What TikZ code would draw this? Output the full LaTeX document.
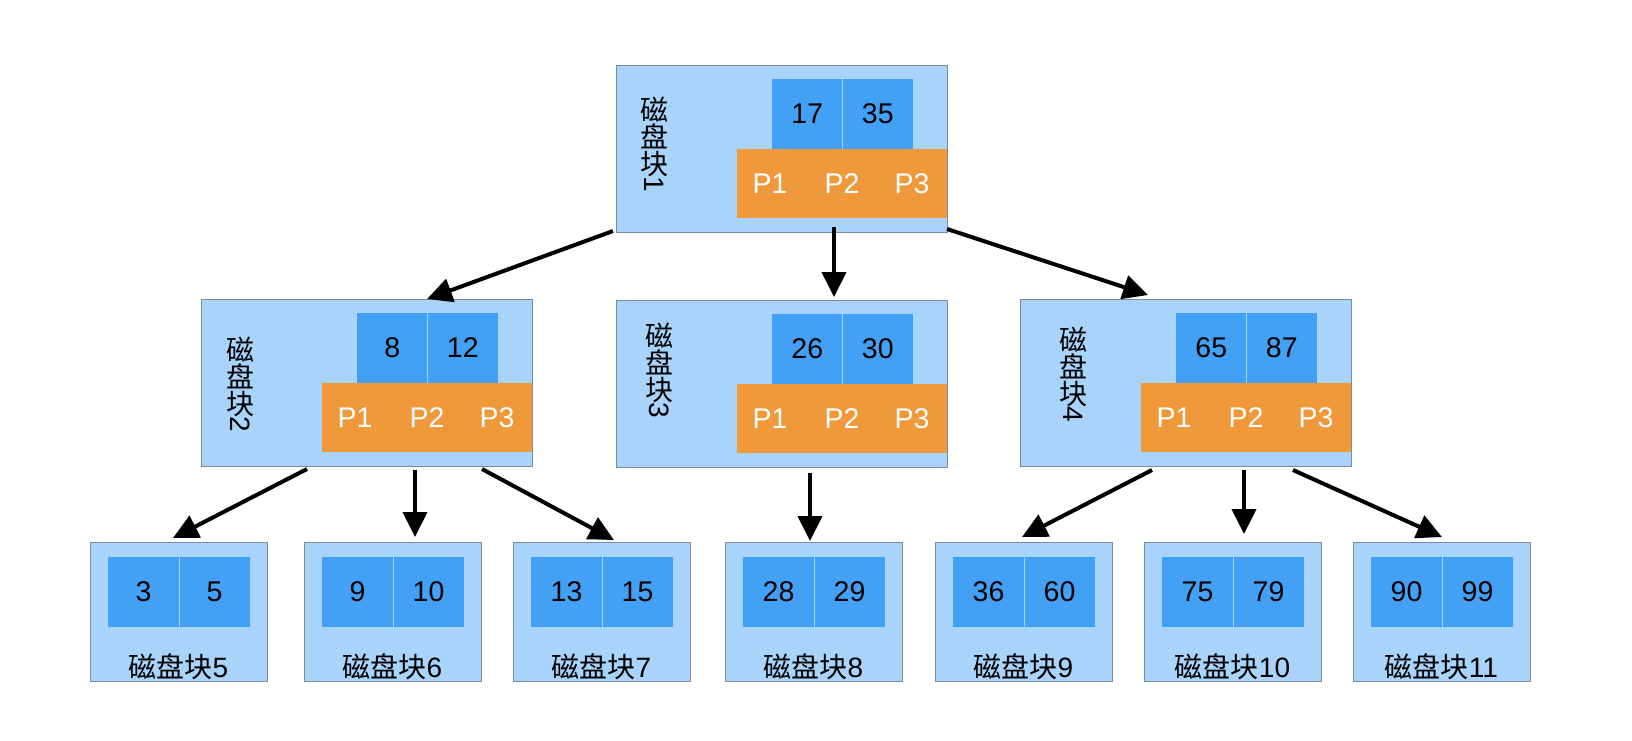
\documentclass[tikz,border=0pt]{standalone}
\usepackage{fontspec}
\setmainfont{Liberation Sans}
\newfontfamily\cjk{Noto Sans CJK SC}
\usetikzlibrary{arrows.meta,calc}
\definecolor{boxblue}{RGB}{168,211,250}
\definecolor{keyblue}{RGB}{66,160,245}
\definecolor{ptrorange}{RGB}{240,153,58}
\definecolor{boxline}{RGB}{125,140,155}

\newcommand{\iblock}[8]{%
  \node[blk, minimum width=331pt, minimum height=167pt] (#1) at (#2,#3) {};
  \node[keycell] (#1k1) at ($(#1.north west)+(156,14)$) {#4};
  \node[keycell] (#1k2) at (#1k1.north east) {#5};
  \draw[divider] (#1k2.north west) -- (#1k2.south west);
  \node[ptrbar] (#1p) at ($(#1.north west)+(121,84)$) {};
  \node[ptrtxt] (#1p1) at ($(#1p.west)+(33,0)$) {P1};
  \node[ptrtxt] (#1p2) at ($(#1p.west)+(105,0)$) {P2};
  \node[ptrtxt] (#1p3) at ($(#1p.west)+(175,0)$) {P3};
  \node[vlabel] (#1l) at ($(#1.north west)+(#6,#7)$) {{\cjk 磁}\\{\cjk 盘}\\{\cjk 块}\\[-8pt]\rotatebox[origin=c]{-90}{#8}};
}
\newcommand{\leafblock}[5]{%
  \node[blk, minimum width=177pt, minimum height=139pt] (#1) at (#2,542) {};
  \node[keycell, minimum width=71pt] (#1k1) at ($(#1.north west)+(18,15)$) {#3};
  \node[keycell, minimum width=71pt] (#1k2) at (#1k1.north east) {#4};
  \draw[divider] (#1k2.north west) -- (#1k2.south west);
  \node[leaflabel] (#1l) at ($(#1.north)+(0,125)$) {{\cjk 磁盘块}#5};
}

\begin{document}
\begin{tikzpicture}[x=1pt,y=-1pt,
  blk/.style={draw=boxline, line width=1pt, fill=boxblue, anchor=north west, inner sep=0pt, outer sep=0pt},
  keycell/.style={fill=keyblue, anchor=north west, minimum width=70.5pt, minimum height=70pt, inner sep=0pt, outer sep=0pt, font=\fontsize{28.5}{32}\selectfont},
  divider/.style={draw=boxblue, line width=1pt},
  ptrbar/.style={fill=ptrorange, anchor=north west, minimum width=210pt, minimum height=69pt, inner sep=0pt, outer sep=0pt},
  ptrtxt/.style={text=white, inner sep=0pt, font=\fontsize{28.5}{32}\selectfont},
  vlabel/.style={anchor=north, align=center, inner sep=0pt, font=\fontsize{28}{27}\selectfont},
  leaflabel/.style={inner sep=0pt, font=\fontsize{28}{32}\selectfont},
  conn/.style={line width=4pt, -{Triangle[length=25pt,width=24pt]}}
]
\useasboundingbox (0,0) rectangle (1632,740);
\fill[white] (0,0) rectangle (1632,740);

\iblock{b1}{616}{65}{17}{35}{38}{32}{1}
\iblock{b2}{201}{299}{8}{12}{39}{38}{2}
\iblock{b3}{616}{300}{26}{30}{43}{23}{3}
\iblock{b4}{1020}{299}{65}{87}{53}{28}{4}

\leafblock{l5}{90}{3}{5}{5}
\leafblock{l6}{304}{9}{10}{6}
\leafblock{l7}{513}{13}{15}{7}
\leafblock{l8}{725}{28}{29}{8}
\leafblock{l9}{935}{36}{60}{9}
\leafblock{l10}{1144}{75}{79}{10}
\leafblock{l11}{1353}{90}{99}{11}

\draw[conn] ($(b1.south west)+(-3,-1)$) -- ($(b2.north west)+(226,0)$);
\draw[conn] ($(b1.south west)+(218,-5)$) -- ($(b3.north west)+(218,-3)$);
\draw[conn] ($(b1.south east)+(0,-3)$) -- ($(b4.north west)+(128,-4)$);

\draw[conn] ($(b2.south west)+(106,3)$) -- ($(l5.north west)+(83,-4)$);
\draw[conn] ($(b2.south west)+(214,4)$) -- ($(l6.north west)+(111,-5)$);
\draw[conn] ($(b2.south west)+(281,3)$) -- ($(l7.north west)+(101,-2)$);

\draw[conn] ($(b3.south west)+(194,6)$) -- ($(l8.north west)+(85,-1)$);

\draw[conn] ($(b4.south west)+(132,4)$) -- ($(l9.north west)+(87,-5)$);
\draw[conn] ($(b4.south west)+(224,4)$) -- ($(l10.north west)+(100,-8)$);
\draw[conn] ($(b4.south west)+(273,4)$) -- ($(l11.north west)+(89,-5)$);
\end{tikzpicture}
\end{document}
